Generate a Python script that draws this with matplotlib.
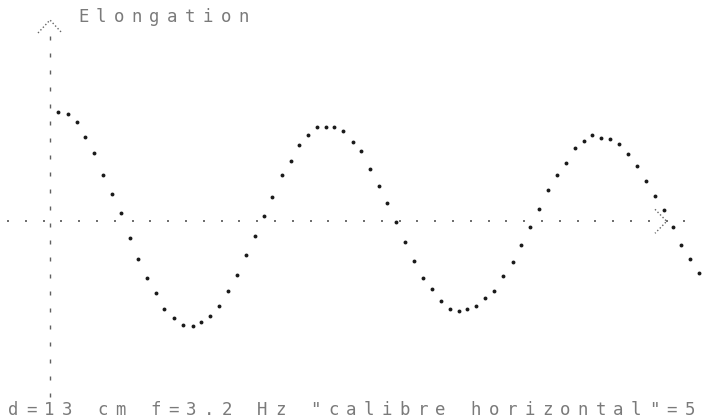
import matplotlib.pyplot as plt
import numpy as np

# Samples (time and elongation, screen units from origin)
TIME = [8.3, 17.7, 26.7, 35.0, 44.3, 53.0, 61.7, 70.7, 79.7, 88.0,
        97.0, 106.3, 114.3, 124.3, 133.3, 142.7, 151.0, 160.0, 169.0, 178.3,
        187.3, 196.0, 205.0, 214.0, 222.0, 231.7, 240.7, 249.3, 257.7, 267.0,
        275.7, 284.0, 293.0, 302.7, 310.7, 320.0, 328.7, 337.3, 346.0, 355.3,
        364.3, 373.0, 382.0, 391.3, 399.7, 408.7, 417.3, 426.3, 435.3, 444.3,
        453.3, 463.0, 471.3, 480.0, 489.3, 498.0, 506.7, 516.0, 524.7, 534.0,
        542.3, 551.3, 560.3, 569.0, 578.0, 587.0, 596.0, 604.7, 613.7, 623.0,
        631.3, 640.3, 649.3]
ELONGATION = [109.0, 107.0, 99.3, 84.6, 68.6, 46.6, 27.0, 8.3, -17.0, -38.0,
              -56.4, -72.0, -87.7, -97.0, -103.4, -104.7, -101.0, -94.7, -85.0, -70.0,
              -54.0, -34.0, -14.7, 5.0, 24.6, 46.0, 60.0, 76.3, 86.0, 94.3,
              94.3, 94.6, 90.3, 79.3, 70.3, 52.6, 35.6, 18.0, -0.7, -20.4,
              -39.4, -56.4, -67.4, -79.7, -88.0, -89.7, -87.7, -84.7, -77.0, -69.4,
              -54.4, -40.7, -23.4, -5.7, 12.3, 31.3, 46.6, 58.0, 73.0, 80.3,
              86.0, 83.3, 82.3, 77.6, 67.3, 55.6, 40.3, 25.6, 11.0, -5.7,
              -24.0, -37.4, -51.4]

Y_LABEL = "Elongation"
CAPTION = "d=13 cm f=3.2 Hz \"calibre horizontal\"=5"

PITCH = 17.8  # printer character pitch, screen units

fig = plt.figure(figsize=(7.06, 4.2), dpi=100)
ax = fig.add_axes([0, 0, 1, 1])
ax.set_xlim(-50, 656)
ax.set_ylim(-198.7, 221.3)
ax.axis("off")

# dotted axes (printer ticks)
hx = np.arange(-42, 640, PITCH)
ax.plot(hx, np.zeros_like(hx), ls="none", marker="s", ms=1.7, mew=0, color="#707070")
vy = np.arange(183.3, -180, -17.0)
ax.plot(np.zeros_like(vy), vy, ls="none", marker="|", ms=2.6, mew=1.0, color="#606060")

# arrow heads
arrow_kw = dict(ls=(0, (1, 1.6)), lw=1.0, color="#666666")
ax.plot([-12, 0, 12], [188.3, 201.3, 188.3], **arrow_kw)
ax.plot([605, 616.7, 605], [12, 0, -12], **arrow_kw)

# measured points
ax.plot(TIME, ELONGATION, ls="none", marker="o", ms=2.8, color="#1a1a1a", mew=0)


def printer_text(x0, y0, s):
    for i, ch in enumerate(s):
        ax.text(x0 + i * PITCH, y0, ch, family="DejaVu Sans Mono", fontsize=12.5,
                color="#7a7a7a", ha="left", va="center")


printer_text(28, 204.0, Y_LABEL)
printer_text(-42, -188.5, CAPTION)

fig.savefig("out.png", dpi=100, facecolor="white")
